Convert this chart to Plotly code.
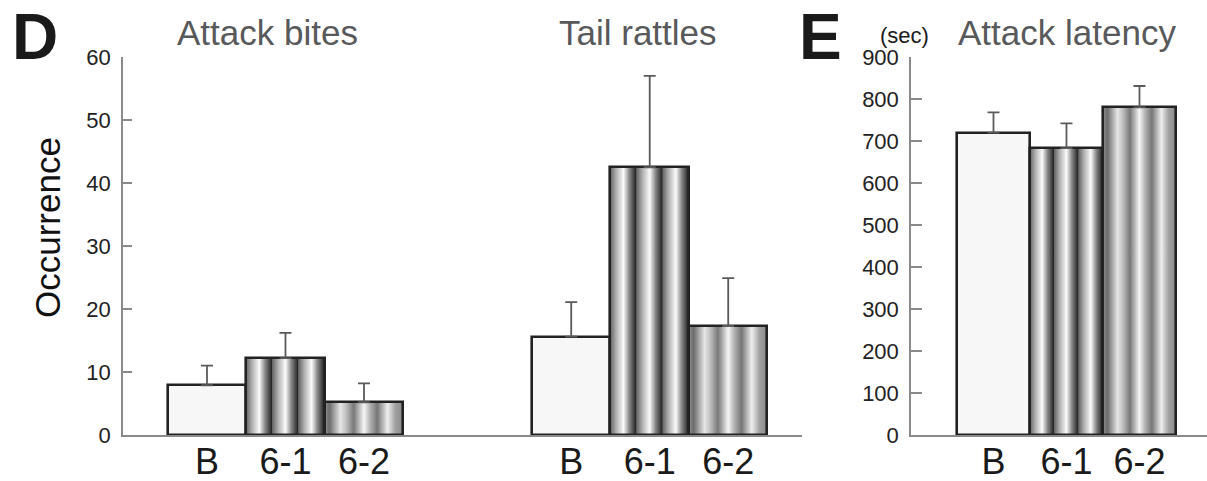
import plotly.graph_objects as go

# ---------------- data ----------------
groups_d = ["Attack bites", "Tail rattles"]
conditions = ["B", "6-1", "6-2"]
attack_bites = [7.9, 12.2, 5.2]
attack_bites_err = [3.1, 4.0, 3.0]
tail_rattles = [15.6, 42.5, 17.3]
tail_rattles_err = [5.5, 14.5, 7.6]
attack_latency = [720, 683, 780]
attack_latency_err = [48, 59, 51]
ticks_d = [0, 10, 20, 30, 40, 50, 60]
ticks_e = [0, 100, 200, 300, 400, 500, 600, 700, 800, 900]

# ---------------- styles ----------------
W, H = 1207, 481
FONT = "Liberation Sans, Arial, sans-serif"
AXIS_GRAY = "#8a8a8a"
OUTLINE = "#222222"
ERR = "#5a5a5a"
B_FILL = "#f7f7f7"

def px(x):
    return x / W

def py(y):
    return 1 - y / H

# cylinder-like stripe gradients
cs_61 = []
for k in range(3):
    base = k / 3.0
    seg = [(0.0, "#666666"), (0.22, "#b0b0b0"), (0.5, "#fbfbfb"), (0.72, "#888888"), (0.97, "#262626")]
    for p, c in seg:
        cs_61.append([base + p / 3.0, c])
cs_61.append([1.0, "#555555"])
cs_62 = [[0.0, "#8e8e8e"], [0.06, "#6c6c6c"], [0.2, "#e6e6e6"], [0.27, "#c0c0c0"],
         [0.37, "#787878"], [0.5, "#f6f6f6"], [0.58, "#b0b0b0"], [0.67, "#767676"],
         [0.8, "#eeeeee"], [0.9, "#a0a0a0"], [1.0, "#8a8a8a"]]
gradients = [None, cs_61, cs_62]

fig = go.Figure()

GROUP_OFFSET = 4.64
pos_ab = [i for i in range(len(conditions))]
pos_tr = [GROUP_OFFSET + i for i in range(len(conditions))]
pos_e = [i for i in range(len(conditions))]

def add_group(xs, vals, errs, xa_base, xa_over, ya):
    # gradient fills under the bars
    for x, v, g in zip(xs, vals, gradients):
        if g is None:
            continue
        fig.add_trace(go.Scatter(
            x=[x - 0.5, x + 0.5, x + 0.5, x - 0.5, x - 0.5],
            y=[0, 0, v, v, 0], mode="none", fill="toself",
            fillgradient=dict(type="horizontal", colorscale=g),
            xaxis=xa_base, yaxis=ya, showlegend=False, hoverinfo="skip"))
    # bars with outline and error bars on top
    fig.add_trace(go.Bar(
        x=xs, y=vals, width=1.0,
        marker=dict(color=[B_FILL if g is None else "rgba(0,0,0,0)" for g in gradients],
                    line=dict(color=OUTLINE, width=2.6)),
        error_y=dict(type="data", array=errs, arrayminus=[0] * len(errs),
                     symmetric=False, color=ERR, thickness=1.8, width=6),
        xaxis=xa_over, yaxis=ya, showlegend=False))

add_group(pos_ab, attack_bites, attack_bites_err, "x", "x2", "y")
add_group(pos_tr, tail_rattles, tail_rattles_err, "x", "x2", "y")
add_group(pos_e, attack_latency, attack_latency_err, "x3", "x4", "y2")

ydom = [py(435), py(57)]
rng_d = [-1.07, 7.58]
rng_e = [-1.13, 2.925]

tick_font = dict(family=FONT, size=22, color="#222222")
xtick_font = dict(family=FONT, size=36, color="#1a1a1a")

fig.update_layout(
    width=W, height=H,
    margin=dict(l=0, r=0, t=0, b=0, autoexpand=False),
    paper_bgcolor="white", plot_bgcolor="rgba(0,0,0,0)",
    bargap=0, barmode="overlay",
    xaxis=dict(domain=[px(123), px(802)], range=rng_d, anchor="y", automargin=False,
               showline=True, linecolor=AXIS_GRAY, linewidth=1.5,
               showgrid=False, zeroline=False, ticks="",
               tickmode="array", tickvals=pos_ab + pos_tr, ticktext=conditions * 2,
               tickfont=xtick_font, ticklabelstandoff=-6),
    xaxis2=dict(overlaying="x", matches="x", range=rng_d, visible=False, automargin=False),
    xaxis3=dict(domain=[px(911), 1.0], range=rng_e, anchor="y2", automargin=False,
                showline=True, linecolor=AXIS_GRAY, linewidth=1.5,
                showgrid=False, zeroline=False, ticks="",
                tickmode="array", tickvals=pos_e, ticktext=conditions,
                tickfont=xtick_font, ticklabelstandoff=-6),
    xaxis4=dict(overlaying="x3", matches="x3", range=rng_e, visible=False, automargin=False),
    yaxis=dict(domain=ydom, range=[0, 60], anchor="x", automargin=False,
               showline=True, linecolor=AXIS_GRAY, linewidth=1.5,
               showgrid=False, zeroline=False, ticks="inside", ticklen=9,
               tickcolor=AXIS_GRAY, tickwidth=1.5,
               tickmode="array", tickvals=ticks_d, tickfont=tick_font,
               ticklabelstandoff=6),
    yaxis2=dict(domain=ydom, range=[0, 900], anchor="x3", automargin=False,
                showline=True, linecolor=AXIS_GRAY, linewidth=1.5,
                showgrid=False, zeroline=False, ticks="inside", ticklen=11,
                tickcolor=AXIS_GRAY, tickwidth=1.5,
                tickmode="array", tickvals=ticks_e, tickfont=tick_font,
                ticklabelstandoff=6),
)

ann = []
ann.append(dict(text="<b>D</b>", x=px(35), y=py(37), xref="paper", yref="paper",
                showarrow=False, font=dict(family=FONT, size=64, color="#1a1a1a"),
                xanchor="center", yanchor="middle"))
ann.append(dict(text="<b>E</b>", x=px(820), y=py(37), xref="paper", yref="paper",
                showarrow=False, font=dict(family=FONT, size=64, color="#1a1a1a"),
                xanchor="center", yanchor="middle"))
for txt, xc in [(groups_d[0], 267), (groups_d[1], 638), ("Attack latency", 1067)]:
    ann.append(dict(text=txt, x=px(xc), y=py(33), xref="paper", yref="paper",
                    showarrow=False, font=dict(family=FONT, size=35, color="#58595b"),
                    xanchor="center", yanchor="middle"))
ann.append(dict(text="(sec)", x=px(904), y=py(35), xref="paper", yref="paper",
                showarrow=False, font=dict(family=FONT, size=22, color="#1a1a1a"),
                xanchor="center", yanchor="middle"))
ann.append(dict(text="Occurrence", x=px(47), y=py(228), xref="paper", yref="paper",
                showarrow=False, textangle=-90,
                font=dict(family=FONT, size=35, color="#111111"),
                xanchor="center", yanchor="middle"))
fig.update_layout(annotations=ann)

fig.write_html("out.html")
